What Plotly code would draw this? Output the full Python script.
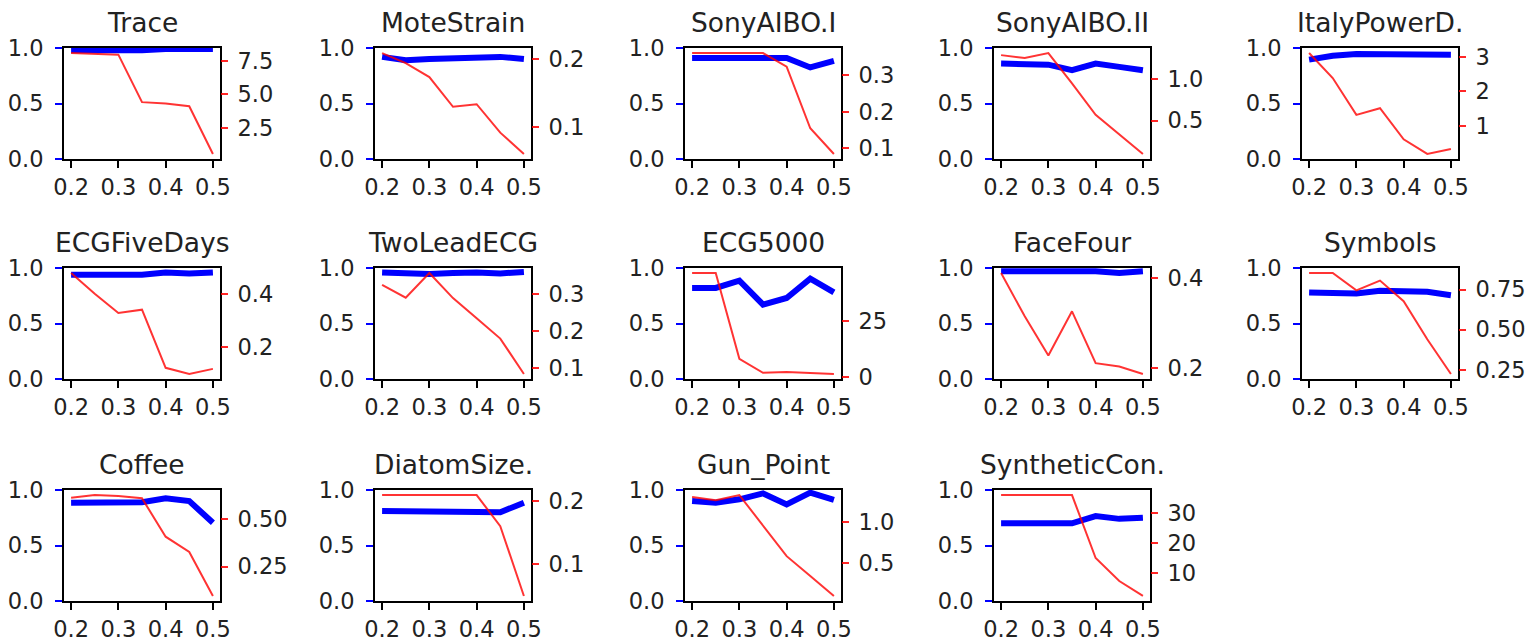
import plotly.graph_objects as go

W, H = 1527, 642

# shared x positions and tick labels
ratios = [0.2, 0.25, 0.3, 0.35, 0.4, 0.45, 0.5]
x_tick_labels = ["0.2", "0.3", "0.4", "0.5"]
left_tick_labels = ["0.0", "0.5", "1.0"]

titles = ["Trace", "MoteStrain", "SonyAIBO.I", "SonyAIBO.II", "ItalyPowerD.",
          "ECGFiveDays", "TwoLeadECG", "ECG5000", "FaceFour", "Symbols",
          "Coffee", "DiatomSize.", "Gun_Point", "SyntheticCon."]

# blue series (left axis, 0..1)
acc_trace = [0.98, 0.98, 0.97, 0.98, 0.99, 0.99, 0.99]
acc_mote = [0.92, 0.89, 0.90, 0.905, 0.91, 0.92, 0.90]
acc_sony1 = [0.91, 0.91, 0.91, 0.91, 0.91, 0.825, 0.885]
acc_sony2 = [0.86, 0.86, 0.85, 0.80, 0.86, 0.83, 0.80]
acc_italy = [0.895, 0.93, 0.945, 0.946, 0.946, 0.946, 0.94]
acc_ecg5d = [0.94, 0.94, 0.94, 0.94, 0.96, 0.95, 0.96]
acc_twolead = [0.96, 0.955, 0.945, 0.955, 0.96, 0.95, 0.965]
acc_ecg5000 = [0.82, 0.82, 0.886, 0.67, 0.73, 0.904, 0.78]
acc_face4 = [0.97, 0.97, 0.97, 0.97, 0.97, 0.955, 0.97]
acc_symbols = [0.78, 0.78, 0.77, 0.795, 0.795, 0.785, 0.755]
acc_coffee = [0.885, 0.89, 0.89, 0.89, 0.925, 0.90, 0.705]
acc_diatom = [0.81, 0.81, 0.81, 0.81, 0.81, 0.80, 0.885]
acc_gun = [0.90, 0.886, 0.916, 0.97, 0.87, 0.976, 0.91]
acc_synth = [0.70, 0.70, 0.70, 0.70, 0.765, 0.74, 0.75]

# red series (right axis)
val_trace = [8.07, 8.03, 7.95, 4.43, 4.33, 4.13, 0.59]
val_mote = [0.2088, 0.194, 0.1735, 0.130, 0.1338, 0.092, 0.0608]
val_sony1 = [0.36, 0.36, 0.36, 0.36, 0.323, 0.155, 0.085]
val_sony2 = [1.29, 1.255, 1.315, 0.95, 0.57, 0.33, 0.097]
val_italy = [3.115, 2.39, 1.32, 1.515, 0.61, 0.186, 0.33]
val_ecg5d = [0.477, 0.40, 0.328, 0.34, 0.123, 0.10, 0.119]
val_twolead = [0.326, 0.291, 0.358, 0.29, 0.235, 0.18, 0.084]
val_ecg5000 = [46.7, 46.7, 8.2, 1.9, 2.3, 1.7, 1.37]
val_face4 = [0.411, 0.315, 0.228, 0.326, 0.211, 0.2035, 0.187]
val_symbols = [0.853, 0.853, 0.745, 0.806, 0.677, 0.44, 0.223]
val_coffee = [0.614, 0.628, 0.623, 0.611, 0.408, 0.327, 0.095]
val_diatom = [0.209, 0.209, 0.209, 0.209, 0.209, 0.16, 0.05]
val_gun = [1.307, 1.266, 1.331, 0.95, 0.58, 0.336, 0.091]
val_synth = [35.8, 35.8, 35.8, 35.8, 15.05, 7.47, 2.54]

# right-axis tick labels
rt_trace = ["2.5", "5.0", "7.5"]
rt_mote = ["0.1", "0.2"]
rt_sony1 = ["0.1", "0.2", "0.3"]
rt_sony2 = ["0.5", "1.0"]
rt_italy = ["1", "2", "3"]
rt_ecg5d = ["0.2", "0.4"]
rt_twolead = ["0.1", "0.2", "0.3"]
rt_ecg5000 = ["0", "25"]
rt_face4 = ["0.2", "0.4"]
rt_symbols = ["0.25", "0.50", "0.75"]
rt_coffee = ["0.25", "0.50"]
rt_diatom = ["0.1", "0.2"]
rt_gun = ["0.5", "1.0"]
rt_synth = ["10", "20", "30"]

acc_all = [acc_trace, acc_mote, acc_sony1, acc_sony2, acc_italy, acc_ecg5d, acc_twolead,
           acc_ecg5000, acc_face4, acc_symbols, acc_coffee, acc_diatom, acc_gun, acc_synth]
val_all = [val_trace, val_mote, val_sony1, val_sony2, val_italy, val_ecg5d, val_twolead,
           val_ecg5000, val_face4, val_symbols, val_coffee, val_diatom, val_gun, val_synth]
rt_all = [rt_trace, rt_mote, rt_sony1, rt_sony2, rt_italy, rt_ecg5d, rt_twolead,
          rt_ecg5000, rt_face4, rt_symbols, rt_coffee, rt_diatom, rt_gun, rt_synth]

FONT = "DejaVu Sans"
TXT = "#222222"
TICK_SIZE = 22.5
TITLE_SIZE = 26.5

col_left = [64, 375, 685, 994, 1302]
row_top = [48.0, 268.0, 490.0]
pw, ph = 156, 111

fig = go.Figure()
layout = {}
annotations = []

for i in range(len(titles)):
    r, c = divmod(i, 5)
    x0, y0 = col_left[c], row_top[r]
    xd = [x0 / W, (x0 + pw) / W]
    yd = [1 - (y0 + ph) / H, 1 - y0 / H]

    xn = "" if i == 0 else str(i + 1)
    yl = "" if i == 0 else str(2 * i + 1)
    yr = str(2 * i + 2)
    xid, ylid, yrid = "x" + xn, "y" + yl, "y" + yr

    acc, val, rt = acc_all[i], val_all[i], rt_all[i]

    fig.add_trace(go.Scatter(x=ratios, y=acc, xaxis=xid, yaxis=ylid, mode="lines",
                             line=dict(color="#0000ff", width=6), showlegend=False,
                             hoverinfo="skip"))
    fig.add_trace(go.Scatter(x=ratios, y=val, xaxis=xid, yaxis=yrid, mode="lines",
                             line=dict(color="rgba(255,0,0,0.8)", width=2), showlegend=False,
                             hoverinfo="skip"))

    lo, hi = min(val), max(val)
    pad = 0.05 * (hi - lo)

    tickfont = dict(family=FONT, size=TICK_SIZE, color=TXT)
    layout["xaxis" + xn] = dict(
        domain=xd, anchor=ylid, range=[0.185, 0.515], automargin=False,
        tickvals=[float(t) for t in x_tick_labels], ticktext=x_tick_labels,
        ticks="outside", ticklen=7, tickwidth=2, tickcolor="black",
        ticklabelstandoff=0,
        showline=True, linecolor="black", linewidth=2, mirror=True,
        showgrid=False, zeroline=False, tickfont=tickfont, fixedrange=True)
    layout["yaxis" + yl] = dict(
        domain=yd, anchor=xid, range=[0, 1], automargin=False,
        tickvals=[float(t) for t in left_tick_labels], ticktext=left_tick_labels,
        ticks="outside", ticklen=7, tickwidth=2, tickcolor="#0000ff",
        ticklabelstandoff=7,
        showline=True, linecolor="black", linewidth=2, mirror=True,
        showgrid=False, zeroline=False, tickfont=tickfont, fixedrange=True)
    layout["yaxis" + yr] = dict(
        overlaying=ylid, side="right", anchor=xid, range=[lo - pad, hi + pad],
        automargin=False,
        tickvals=[float(t) for t in rt], ticktext=rt,
        ticks="outside", ticklen=7, tickwidth=2, tickcolor="rgba(255,0,0,0.85)",
        ticklabelstandoff=5,
        showline=False, showgrid=False, zeroline=False, tickfont=tickfont,
        fixedrange=True)

    annotations.append(dict(
        text=titles[i], x=(x0 + pw / 2) / W, y=1 - (y0 - 8) / H,
        xref="paper", yref="paper", xanchor="center", yanchor="bottom",
        showarrow=False, font=dict(family=FONT, size=TITLE_SIZE, color=TXT)))

fig.update_layout(
    width=W, height=H, margin=dict(l=0, r=0, t=0, b=0),
    paper_bgcolor="white", plot_bgcolor="white",
    annotations=annotations, **layout)

fig.write_html("out.html")
